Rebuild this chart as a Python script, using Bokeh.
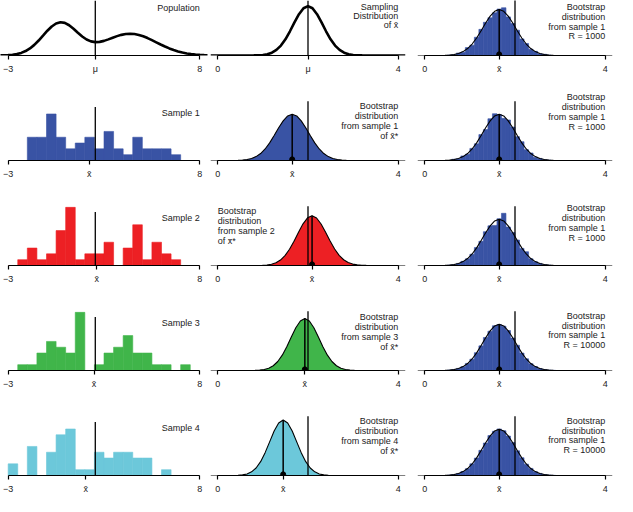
from bokeh.plotting import figure
from bokeh.models import Range1d, FixedTicker, Span, Label
from bokeh.layouts import column, row
from bokeh.embed import file_html
from bokeh.resources import INLINE

FONT = "Liberation Sans"

# ---------------- data ----------------
mu = 2.0
mu_line_counts = 9.2

pop_x = [-3.5, -3.25, -3.0, -2.75, -2.5, -2.25, -2.0, -1.75, -1.5, -1.25, -1.0, -0.75, -0.5, -0.25,
         0.0, 0.25, 0.5, 0.75, 1.0, 1.25, 1.5, 1.75, 2.0, 2.25, 2.5, 2.75, 3.0, 3.25, 3.5, 3.75,
         4.0, 4.25, 4.5, 4.75, 5.0, 5.25, 5.5, 5.75, 6.0, 6.25, 6.5, 6.75, 7.0, 7.25, 7.5, 7.75,
         8.0, 8.25, 8.5]
pop_y = [0.0004, 0.0010, 0.0022, 0.0046, 0.0088, 0.0159, 0.0271, 0.0433, 0.0649, 0.0916, 0.1215,
         0.1515, 0.1775, 0.1957, 0.2033, 0.1992, 0.1848, 0.1633, 0.1390, 0.1161, 0.0979, 0.0863,
         0.0817, 0.0832, 0.0894, 0.0985, 0.1087, 0.1184, 0.1262, 0.1313, 0.1331, 0.1311, 0.1258,
         0.1174, 0.1065, 0.0940, 0.0807, 0.0673, 0.0547, 0.0432, 0.0332, 0.0248, 0.0180, 0.0127,
         0.0087, 0.0058, 0.0038, 0.0024, 0.0015]

sample_bin_start = -3.0
sample_bin_width = 0.55
sample_counts = [
    [0, 0, 4, 4, 8, 4, 2, 3, 4, 2, 5, 2, 1, 4, 2, 2, 2, 1, 0, 0],
    [0, 1, 3, 1, 2, 6, 10, 1, 2, 2, 4, 0, 3, 7, 1, 4, 2, 1, 0, 0],
    [0, 1, 1, 3, 5, 4, 3, 10, 0, 1, 3, 4, 6, 3, 3, 1, 1, 0, 1, 0],
    [2, 0, 5, 0, 4, 7, 8, 1, 1, 4, 3, 4, 4, 3, 3, 0, 1, 0, 0, 0],
]
sample_means = [1.65, 2.09, 1.93, 1.45]
sample_names = ["Sample 1", "Sample 2", "Sample 3", "Sample 4"]
sample_colors = ["#3953A4", "#ED2024", "#40B54A", "#6CC8DA"]

curve_offsets = [-1.3, -1.2, -1.1, -1.0, -0.9, -0.8, -0.7, -0.6, -0.5, -0.4, -0.3, -0.2, -0.1, 0.0,
                 0.1, 0.2, 0.3, 0.4, 0.5, 0.6, 0.7, 0.8, 0.9, 1.0, 1.1, 1.2, 1.3]
sampling_dist = [0.0006, 0.0019, 0.0054, 0.0138, 0.0322, 0.0688, 0.134, 0.239, 0.391, 0.584, 0.797,
                 0.996, 1.139, 1.191, 1.139, 0.996, 0.797, 0.584, 0.391, 0.239, 0.134, 0.0688,
                 0.0322, 0.0138, 0.0054, 0.0019, 0.0006]
boot_dists = [
    [0.0016, 0.0043, 0.0104, 0.0234, 0.0487, 0.0938, 0.167, 0.276, 0.422, 0.598, 0.783, 0.950,
     1.066, 1.108, 1.066, 0.950, 0.783, 0.598, 0.422, 0.276, 0.167, 0.0938, 0.0487, 0.0234,
     0.0104, 0.0043, 0.0016],
    [0.0004, 0.0015, 0.0048, 0.0130, 0.0310, 0.0670, 0.131, 0.236, 0.388, 0.582, 0.797, 0.998,
     1.142, 1.192, 1.137, 0.994, 0.797, 0.588, 0.396, 0.244, 0.138, 0.0712, 0.0336, 0.0145,
     0.0058, 0.0021, 0.0007],
    [0.0003, 0.0011, 0.0034, 0.0094, 0.0239, 0.0547, 0.114, 0.215, 0.368, 0.571, 0.803, 1.025,
     1.187, 1.247, 1.187, 1.025, 0.803, 0.571, 0.368, 0.215, 0.114, 0.0547, 0.0239, 0.0094,
     0.0034, 0.0011, 0.0003],
    [0.0001, 0.0004, 0.0016, 0.0051, 0.0148, 0.0380, 0.0874, 0.180, 0.332, 0.547, 0.806, 1.065,
     1.258, 1.330, 1.258, 1.065, 0.806, 0.547, 0.332, 0.180, 0.0874, 0.0380, 0.0148, 0.0051,
     0.0016, 0.0004, 0.0001],
]

# bootstrap histograms of sample 1 (column 3)
boot_bin_start = 0.5
boot_bin_width = 0.1
boot_R = ["1000", "1000", "1000", "10000", "10000"]
boot_hists = [
    [0.01, 0.02, 0.06, 0.08, 0.19, 0.25, 0.44, 0.63, 0.80, 0.91, 1.03, 1.12, 1.15, 0.93, 0.77,
     0.61, 0.40, 0.29, 0.15, 0.10, 0.04, 0.03, 0.01, 0.0],
    [0.0, 0.03, 0.04, 0.11, 0.15, 0.29, 0.40, 0.62, 0.74, 1.00, 1.12, 1.10, 1.01, 0.97, 0.80,
     0.57, 0.45, 0.26, 0.18, 0.08, 0.05, 0.02, 0.01, 0.0],
    [0.01, 0.02, 0.05, 0.10, 0.16, 0.27, 0.43, 0.58, 0.81, 0.95, 0.96, 1.12, 1.25, 0.92, 0.79,
     0.61, 0.41, 0.33, 0.16, 0.09, 0.05, 0.02, 0.01, 0.0],
    [0.011, 0.024, 0.050, 0.092, 0.170, 0.272, 0.428, 0.590, 0.790, 0.941, 1.072, 1.101, 1.060,
     0.958, 0.776, 0.604, 0.417, 0.280, 0.163, 0.095, 0.047, 0.024, 0.010, 0.004],
    [0.010, 0.022, 0.049, 0.096, 0.164, 0.279, 0.418, 0.602, 0.778, 0.955, 1.060, 1.114, 1.071,
     0.944, 0.789, 0.592, 0.426, 0.272, 0.170, 0.092, 0.050, 0.023, 0.011, 0.004],
]

XBAR = "x\u0304"

# ---------------- layout ----------------
COL_W = [210, 207, 200]
COL_RIGHT = [3, 12, 5]
ROW1_H, ROW_H, BOT_B = 76, 105, 20
REF_FRAME = 62.0     # reference frame height (px) that the y scales below refer to
MY_FRAME = 60.0      # the same frame in this page

X1 = (-3.44, 8.44)
X2 = (-0.16, 4.16)
DENS_MAX = 1.42      # density units over a 62px reference frame (cols 2, 3)
COUNT_MAX = 10.2     # counts over a 62px reference frame (col 1)

PER_PX = {}


def make_fig(col, first_row, xr, ymax_ref, ticks, labels):
    h = ROW1_H if first_row else ROW_H
    frame_h = h - BOT_B
    ymax = ymax_ref * frame_h / MY_FRAME
    p = figure(width=COL_W[col], height=h, x_range=Range1d(*xr), y_range=Range1d(0, ymax),
               output_backend="svg", toolbar_location=None, y_axis_location=None,
               min_border_left=0, min_border_right=COL_RIGHT[col],
               min_border_top=0, min_border_bottom=BOT_B)
    p.outline_line_color = None
    p.xgrid.visible = False
    p.ygrid.visible = False
    p.background_fill_color = "white"
    p.border_fill_color = "white"
    ax = p.xaxis[0]
    ax.ticker = FixedTicker(ticks=ticks)
    ov = {}
    for t, l in zip(ticks, labels):
        ov[t] = l
        ov[str(t)] = l
    ax.major_label_overrides = ov
    ax.bounds = (ticks[0], ticks[-1])
    ax.minor_tick_line_color = None
    ax.major_tick_in = 0
    ax.major_tick_out = 4
    ax.major_label_standoff = 4
    ax.axis_line_color = "black"
    ax.axis_line_width = 1.2
    ax.major_tick_line_color = "black"
    ax.major_tick_line_width = 1.2
    ax.major_label_text_font = FONT
    ax.major_label_text_font_size = "9px"
    ax.major_label_text_color = "#222222"
    PER_PX[p.id] = ymax_ref / REF_FRAME
    return p


def add_text(p, x, top_px, texts, align="right", spacing=10.3):
    k = PER_PX[p.id]
    for i, t in enumerate(texts):
        p.add_layout(Label(x=x, y=(top_px - i * spacing) * k, text=t,
                           text_align=align, text_baseline="middle", text_font=FONT,
                           text_font_size="9px", text_color="#222222"))


def curve_xy(center, vals):
    xs = [X2[0]] + [center + o for o in curve_offsets] + [X2[1]]
    ys = [0.0] + list(vals) + [0.0]
    return xs, ys


def add_boot_marks(p, xbar, peak):
    p.segment(x0=[mu], y0=[0], x1=[mu], y1=[DENS_MAX], line_color="black", line_width=1.3)
    p.segment(x0=[xbar], y0=[0], x1=[xbar], y1=[peak], line_color="black", line_width=1.5)
    p.scatter(x=[xbar], y=[1.2 * PER_PX[p.id]], size=5, color="black")


rows = []

# ---- row 1 ----
p = make_fig(0, True, X1, 0.2033 / 35 * REF_FRAME, [-3, mu, 8], ["\u22123", "\u03bc", "8"])
p.line(pop_x, pop_y, line_color="black", line_width=2.6)
p.add_layout(Span(location=mu, dimension="height", line_color="black", line_width=1.3))
add_text(p, 8, 50, ["Population"])
r1 = [p]

p = make_fig(1, True, X2, DENS_MAX, [0, mu, 4], ["0", "\u03bc", "4"])
xs, ys = curve_xy(mu, sampling_dist)
p.line(xs, ys, line_color="black", line_width=2.6)
p.add_layout(Span(location=mu, dimension="height", line_color="black", line_width=1.3))
add_text(p, 4, 51, ["Sampling", "Distribution", "of " + XBAR], spacing=9.5)
r1.append(p)

boot_label_tops = [51, 66, 60, 57.3, 57.3]


def col3(row_i, first):
    xb = sample_means[0]
    p = make_fig(2, first, X2, DENS_MAX, [0, xb, 4], ["0", XBAR, "4"])
    left = [boot_bin_start + boot_bin_width * k for k in range(len(boot_hists[row_i]))]
    right = [v + boot_bin_width for v in left]
    p.quad(left=left, right=right, bottom=0, top=boot_hists[row_i],
           fill_color=sample_colors[0], line_color=sample_colors[0], line_width=0.6)
    xs, ys = curve_xy(xb, boot_dists[0])
    p.line(xs, ys, line_color="black", line_width=1.1)
    add_boot_marks(p, xb, max(boot_dists[0]))
    add_text(p, 4, boot_label_tops[row_i],
             ["Bootstrap", "distribution", "from sample 1", "R = " + boot_R[row_i]], spacing=10.3)
    return p


r1.append(col3(0, True))
rows.append(row(*r1))

col2_label_tops = [56.6, 57, 55.6, 57]

for i in range(4):
    xb = sample_means[i]
    color = sample_colors[i]
    # column 1: sample histogram
    p = make_fig(0, False, X1, COUNT_MAX, [-3, xb, 8], ["\u22123", XBAR, "8"])
    left = [sample_bin_start + sample_bin_width * k for k in range(len(sample_counts[i]))]
    right = [v + sample_bin_width for v in left]
    p.quad(left=left, right=right, bottom=0, top=sample_counts[i], fill_color=color,
           line_color=color, line_width=0.6)
    p.segment(x0=[mu], y0=[0], x1=[mu], y1=[mu_line_counts], line_color="black", line_width=1.3)
    add_text(p, 8, 50, [sample_names[i]])
    rr = [p]

    # column 2: bootstrap distribution from sample i
    p = make_fig(1, False, X2, DENS_MAX, [0, xb, 4], ["0", XBAR, "4"])
    xs, ys = curve_xy(xb, boot_dists[i])
    p.varea(x=xs, y1=[0] * len(xs), y2=ys, fill_color=color)
    p.line(xs, ys, line_color="black", line_width=1.1)
    add_boot_marks(p, xb, max(boot_dists[i]))
    texts = ["Bootstrap", "distribution", "from sample %d" % (i + 1), "of " + XBAR + "*"]
    if i == 1:
        add_text(p, 0, col2_label_tops[i], texts, align="left", spacing=10.6)
    else:
        add_text(p, 4, col2_label_tops[i], texts, spacing=10.3)
    rr.append(p)

    rr.append(col3(i + 1, False))
    rows.append(row(*rr))

layout = column(*rows)
open("out.html", "w").write(file_html(layout, INLINE))
